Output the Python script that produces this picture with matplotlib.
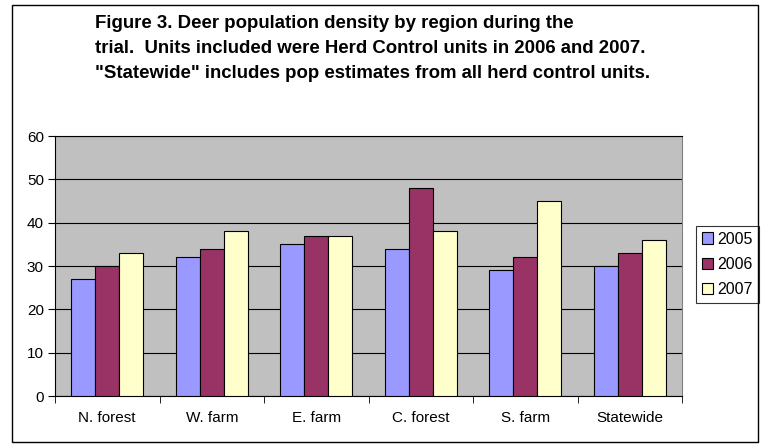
import matplotlib
matplotlib.use('Agg')
import matplotlib.pyplot as plt
from matplotlib.patches import Rectangle
import numpy as np

plt.rcParams['font.family'] = ['Liberation Sans', 'DejaVu Sans']

# Data
regions = ['N. forest', 'W. farm', 'E. farm', 'C. forest', 'S. farm', 'Statewide']
years = ['2005', '2006', '2007']
d2005 = [27, 32, 35, 34, 29, 30]
d2006 = [30, 34, 37, 48, 32, 33]
d2007 = [33, 38, 37, 38, 45, 36]
colors = ['#9999FF', '#993366', '#FFFFCC']

title = ('Figure 3. Deer population density by region during the\n'
         'trial.  Units included were Herd Control units in 2006 and 2007.\n'
         '"Statewide" includes pop estimates from all herd control units.')

fig = plt.figure(figsize=(7.62, 4.45), dpi=100)
fig.patch.set_facecolor('white')

# outer chart border
fig.add_artist(Rectangle((12 / 762, 3 / 445), 746 / 762, 437 / 445,
                         transform=fig.transFigure, fill=False,
                         edgecolor='black', lw=1.0))

ax = fig.add_axes([55 / 762, 1 - 396 / 445, 627 / 762, 260 / 445])
ax.set_facecolor('#C0C0C0')

x = np.arange(len(regions))
w = 0.23
series = [d2005, d2006, d2007]
for i, (vals, c, yr) in enumerate(zip(series, colors, years)):
    ax.bar(x + (i - 1) * w, vals, width=w, color=c, edgecolor='black',
           linewidth=0.8, label=yr, zorder=3)

ax.set_xlim(-0.5, len(regions) - 0.5)
ax.set_ylim(0, 60)
ax.set_yticks(range(0, 61, 10))
ax.yaxis.grid(True, color='black', lw=0.8, zorder=0)
ax.set_axisbelow(True)

ax.set_xticks(x)
ax.set_xticklabels(regions, fontsize=11)
ax.tick_params(axis='x', length=0, pad=11)
ax.set_xticks(np.arange(-0.5, len(regions), 1), minor=True)
ax.tick_params(axis='x', which='minor', length=5, direction='out', color='black')
ax.tick_params(axis='y', labelsize=11, length=5, direction='out', pad=3)

ax.spines['left'].set_color('black')
ax.spines['bottom'].set_color('black')
ax.spines['top'].set_color('black')
ax.spines['right'].set_color('#808080')

leg = ax.legend(loc='upper left', bbox_to_anchor=(696 / 762, 1 - 226 / 445),
                bbox_transform=fig.transFigure, fontsize=11.5,
                frameon=True, fancybox=False, edgecolor='black',
                handlelength=0.7, handleheight=0.7, handletextpad=0.3,
                borderpad=0.35, labelspacing=0.65, borderaxespad=0)
leg.get_frame().set_linewidth(0.8)

fig.text(95 / 762, 1 - 15 / 445, title, fontsize=13.4, fontweight='bold',
         va='top', ha='left', linespacing=1.6)

fig.savefig('out.png', dpi=100)
